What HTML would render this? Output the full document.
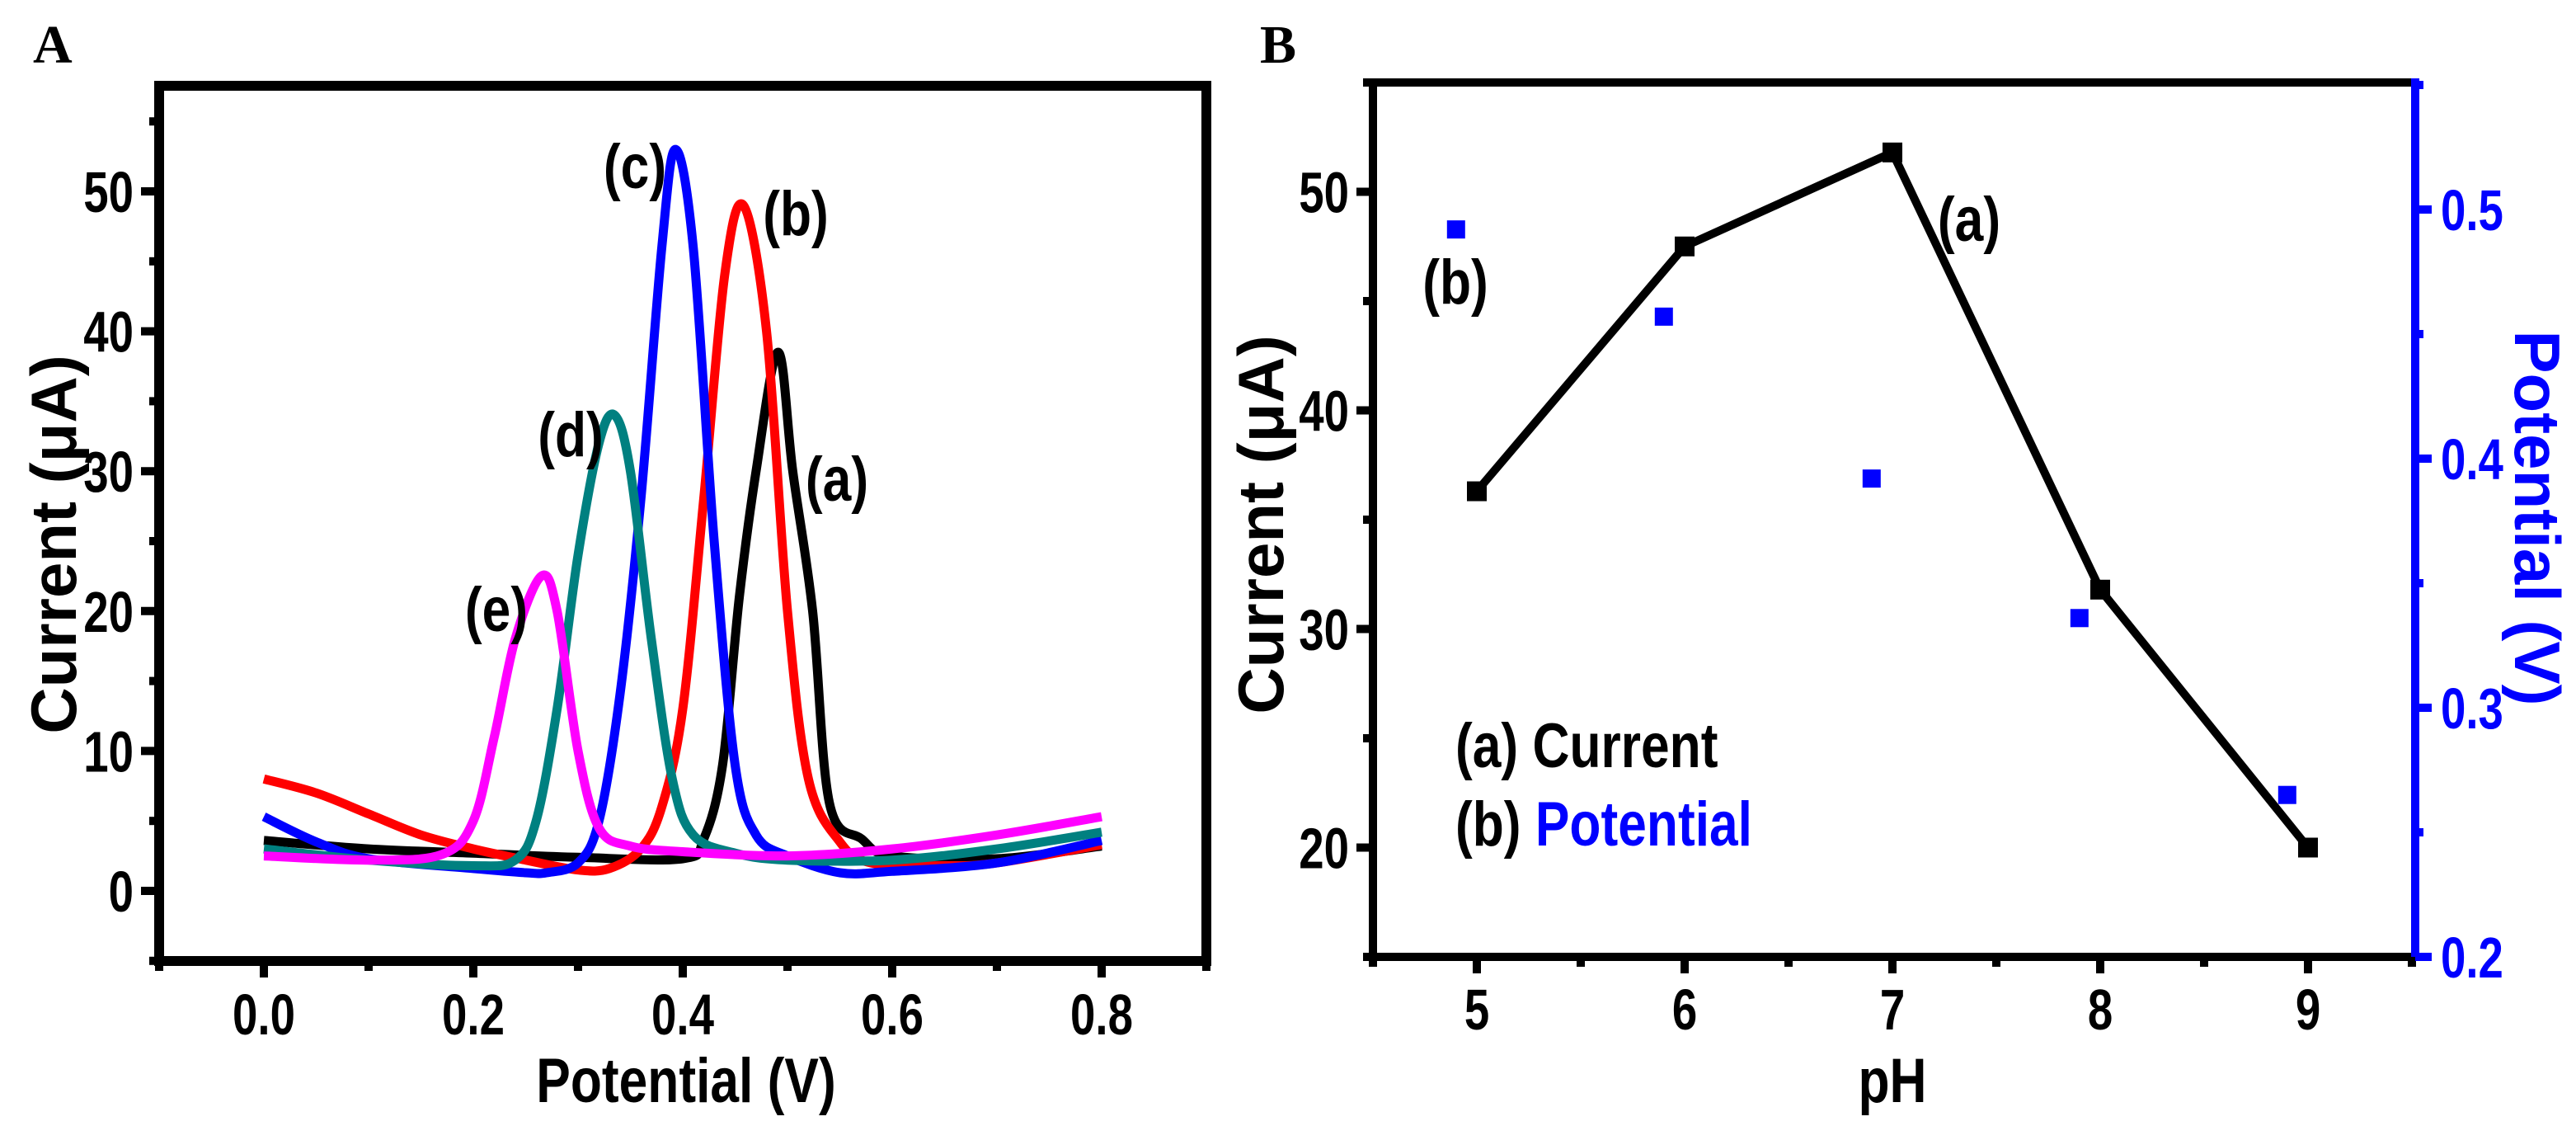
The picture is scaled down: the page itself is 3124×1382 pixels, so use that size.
<!DOCTYPE html>
<html><head><meta charset="utf-8"><style>
html,body{margin:0;padding:0;background:#fff;}
svg{display:block;}
.tk{font-family:"Liberation Sans",sans-serif;font-weight:bold;font-size:70px;}
.tt{font-family:"Liberation Sans",sans-serif;font-weight:bold;font-size:78px;}
.nt{font-family:"Liberation Sans",sans-serif;font-weight:bold;font-size:76px;}
</style></head><body>
<svg id="fig" width="3124" height="1382" viewBox="0 0 3124 1382" xmlns="http://www.w3.org/2000/svg">
<g id="pa"></g>
<g id="pb"></g>
</svg>
<script>
// Panel A data
const aTicksX = [0.0, 0.2, 0.4, 0.6, 0.8];
const aTicksY = [0, 10, 20, 30, 40, 50];
const curveAx = [0, 0.1, 0.2, 0.3, 0.4, 0.42, 0.438, 0.454, 0.47, 0.491, 0.505, 0.524, 0.54, 0.571, 0.6, 0.7, 0.8];
const curveAy = [3.6, 3.0, 2.7, 2.4, 2.3, 3.7, 9, 21, 30, 38.5, 30, 20, 6.3, 3.7, 2.5, 2.3, 3.2];
const curveBx = [0, 0.05, 0.1, 0.15, 0.2, 0.25, 0.3, 0.33, 0.36, 0.38, 0.4, 0.42, 0.44, 0.458, 0.48, 0.5, 0.52, 0.55, 0.58, 0.65, 0.7, 0.8];
const curveBy = [8, 7, 5.5, 4, 3, 2.2, 1.5, 1.6, 3, 6, 13, 28, 44, 49, 40, 20, 8, 3.5, 2, 1.8, 2, 3.3];
const curveCx = [0, 0.05, 0.1, 0.2, 0.25, 0.27, 0.3, 0.32, 0.34, 0.36, 0.38, 0.393, 0.41, 0.43, 0.45, 0.47, 0.5, 0.55, 0.6, 0.7, 0.8];
const curveCy = [5.3, 3.5, 2.3, 1.6, 1.3, 1.3, 2, 5, 14, 28, 46, 53, 46, 25, 9, 4, 2.5, 1.3, 1.4, 2, 3.6];
const curveDx = [0, 0.1, 0.2, 0.24, 0.26, 0.28, 0.3, 0.32, 0.335, 0.35, 0.37, 0.39, 0.41, 0.45, 0.5, 0.6, 0.7, 0.8];
const curveDy = [3, 2.2, 1.8, 2.2, 5, 13, 24, 32, 34, 30, 18, 8, 4, 2.7, 2.2, 2.2, 3, 4.2];
const curveEx = [0, 0.1, 0.17, 0.2, 0.22, 0.24, 0.265, 0.28, 0.3, 0.32, 0.35, 0.4, 0.5, 0.6, 0.7, 0.8];
const curveEy = [2.5, 2.2, 2.6, 5, 11, 18, 22.5, 20, 10, 4.5, 3.2, 2.8, 2.5, 3, 4, 5.3];
// Panel B data
const phValues = [5, 6, 7, 8, 9];
const currentValues = [36.3, 47.5, 51.8, 31.8, 20.0];
const potentialPh = [4.9, 5.9, 6.9, 7.9, 8.9];
const potentialValues = [0.492, 0.457, 0.392, 0.336, 0.265];
const bTicksX = [5, 6, 7, 8, 9];
const bTicksYL = [20, 30, 40, 50];
const bTicksYR = [0.2, 0.3, 0.4, 0.5];

const NS = "http://www.w3.org/2000/svg";
function mk(parent, tag, attrs, text) {
  const e = document.createElementNS(NS, tag);
  for (const k in attrs) e.setAttribute(k, attrs[k]);
  if (text !== undefined) e.textContent = text;
  parent.appendChild(e);
  return e;
}
// narrow text: placed via transform with horizontal squeeze
function ntext(parent, x, y, sx, attrs, text) {
  attrs.x = 0; attrs.y = 0;
  attrs.transform = "translate(" + x + "," + y + ") scale(" + sx + ",1)";
  return mk(parent, "text", attrs, text);
}
function smooth(pts) {
  let d = "M" + pts[0][0].toFixed(1) + "," + pts[0][1].toFixed(1);
  for (let i = 0; i < pts.length - 1; i++) {
    const p0 = pts[Math.max(0, i - 1)], p1 = pts[i], p2 = pts[i + 1], p3 = pts[Math.min(pts.length - 1, i + 2)];
    const c1x = p1[0] + (p2[0] - p0[0]) / 6, c1y = p1[1] + (p2[1] - p0[1]) / 6;
    const c2x = p2[0] - (p3[0] - p1[0]) / 6, c2y = p2[1] - (p3[1] - p1[1]) / 6;
    d += " C" + c1x.toFixed(1) + "," + c1y.toFixed(1) + " " + c2x.toFixed(1) + "," + c2y.toFixed(1) + " " + p2[0].toFixed(1) + "," + p2[1].toFixed(1);
  }
  return d;
}
const SQ = 0.78;

// ---------- Panel A ----------
const A = document.getElementById("pa");
const axA = v => 320 + v * 1270;
const ayA = v => 1080 - v * 16.96;
const aL = 193, aR = 1463, aT = 104, aB = 1165;
let t;
t = mk(A, "text", {x: 40, y: 76, "font-family": "Liberation Serif, serif", "font-weight": "bold", "font-size": 66}, "A");



const seriesA = [[curveAx, curveAy, "#000000", "curve-a"], [curveBx, curveBy, "#ff0000", "curve-b"], [curveCx, curveCy, "#0000ff", "curve-c"], [curveDx, curveDy, "#008080", "curve-d"], [curveEx, curveEy, "#ff00ff", "curve-e"]];
seriesA.forEach(s => {
  const pts = s[0].map((x, i) => [axA(x), ayA(s[1][i])]);
  const p = mk(A, "path", {d: smooth(pts), fill: "none", stroke: s[2], "stroke-width": 11, "stroke-linejoin": "round"});
  
  
});
const frA = mk(A, "rect", {x: aL, y: aT, width: aR - aL, height: aB - aT, fill: "none", stroke: "#000", "stroke-width": 12});


for (let i = -1; i <= 9; i++) {
  const x = axA(i / 10);
  const major = Math.abs(i % 2) === 0;
  const tk = mk(A, "line", {x1: x, y1: aB, x2: x, y2: aB + (major ? 20 : 12), stroke: "#000", "stroke-width": 10});
  
  
}
aTicksX.forEach(v => {
  const l = ntext(A, axA(v), 1254, SQ, {"text-anchor": "middle", class: "tk"}, v.toFixed(1));
  
  
});
for (let v = -5; v <= 55; v += 5) {
  const y = ayA(v);
  const tk = mk(A, "line", {x1: aL, y1: y, x2: aL - (v % 10 === 0 ? 22 : 12), y2: y, stroke: "#000", "stroke-width": 10});
  
  
}
aTicksY.forEach(v => {
  const l = ntext(A, 162, ayA(v) + 25, SQ, {"text-anchor": "end", class: "tk"}, String(v));
  
  
});
t = ntext(A, 832, 1336, 0.82, {"text-anchor": "middle", class: "nt", "font-size": 78}, "Potential (V)");


t = mk(A, "text", {x: 0, y: 0, "text-anchor": "middle", class: "tt", transform: "translate(92,660) rotate(-90)"}, "Current (\u03bcA)");


[["(c)", 770, 228, "label-c"], ["(b)", 965, 285, "label-b"], ["(a)", 1015, 607, "label-a"], ["(d)", 692, 553, "label-d"], ["(e)", 602, 765, "label-e"]].forEach(a => {
  const l = ntext(A, a[1], a[2], 0.82, {"text-anchor": "middle", class: "nt", "font-size": 72}, a[0]);
  
  
});

// ---------- Panel B ----------
const B = document.getElementById("pb");
const axB = v => 1791 + (v - 5) * 252;
const ayL = v => 1160 - (v - 15) * 26.5;
const ayR = v => 1160 - (v - 0.2) * 3020;
const bL = axB(4.5), bR = 2929, bT = 100, bBt = 1160;
t = mk(B, "text", {x: 1528, y: 76, "font-family": "Liberation Serif, serif", "font-weight": "bold", "font-size": 66}, "B");



const ln = mk(B, "polyline", {points: phValues.map((p, i) => axB(p) + "," + ayL(currentValues[i])).join(" "), fill: "none", stroke: "#000", "stroke-width": 10, "stroke-linejoin": "round"});


phValues.forEach((p, i) => {
  const r = mk(B, "rect", {x: axB(p) - 12, y: ayL(currentValues[i]) - 12, width: 24, height: 24, fill: "#000"});
  
  
});
potentialPh.forEach((p, i) => {
  const r = mk(B, "rect", {x: axB(p) - 11, y: ayR(potentialValues[i]) - 11, width: 22, height: 22, fill: "#0000ff"});
  
  
});
const fb = mk(B, "path", {d: `M${bR},${bT} L${bL},${bT} L${bL},${bBt} L${bR},${bBt}`, fill: "none", stroke: "#000", "stroke-width": 10});


const ra = mk(B, "line", {x1: bR, y1: bT - 5, x2: bR, y2: bBt + 5, stroke: "#0000ff", "stroke-width": 10});


for (let i = 9; i <= 19; i++) {
  const v = i / 2;
  const x = axB(v);
  const major = i % 2 === 0;
  const tk = mk(B, "line", {x1: x, y1: bBt, x2: x, y2: bBt + (major ? 20 : 12), stroke: "#000", "stroke-width": 10});
  
  
}
bTicksX.forEach(v => {
  const l = ntext(B, axB(v), 1248, SQ, {"text-anchor": "middle", class: "tk"}, String(v));
  
  
});
for (let v = 15; v <= 55; v += 5) {
  const y = ayL(v);
  const tk = mk(B, "line", {x1: bL, y1: y, x2: bL - (v % 10 === 0 ? 20 : 12), y2: y, stroke: "#000", "stroke-width": 10});
  
  
}
bTicksYL.forEach(v => {
  const l = ntext(B, 1636, ayL(v) + 25, SQ, {"text-anchor": "end", class: "tk"}, String(v));
  
  
});
for (let i = 4; i <= 11; i++) {
  const v = i / 20;
  const y = ayR(v);
  const major = i % 2 === 0;
  const tk = mk(B, "line", {x1: bR, y1: y, x2: bR + (major ? 20 : 10), y2: y, stroke: "#0000ff", "stroke-width": 10});
  
  
}
bTicksYR.forEach(v => {
  const l = ntext(B, 2960, ayR(v) + 25, SQ, {fill: "#0000ff", class: "tk"}, v.toFixed(1));
  
  
});
t = ntext(B, 2295, 1336, 0.82, {"text-anchor": "middle", class: "nt", "font-weight": "normal", "font-size": 78}, "pH");


t = mk(B, "text", {x: 0, y: 0, "text-anchor": "middle", class: "tt", transform: "translate(1556,636) rotate(-90)"}, "Current (\u03bcA)");


t = mk(B, "text", {x: 0, y: 0, "text-anchor": "middle", class: "tt", fill: "#0000ff", transform: "translate(3050,628) rotate(90)"}, "Potential (V)");


t = ntext(B, 2388, 292, 0.82, {"text-anchor": "middle", class: "nt", "font-weight": "normal", "font-size": 72}, "(a)");


t = ntext(B, 1765, 368, 0.82, {"text-anchor": "middle", class: "nt", "font-weight": "normal", "font-size": 72}, "(b)");


const lg = mk(B, "g", {});


t = ntext(lg, 1765, 930, 0.82, {class: "nt", "font-weight": "normal", "font-size": 76}, "(a) Current");


t = ntext(lg, 1765, 1025, 0.82, {class: "nt", "font-weight": "normal", "font-size": 76});


mk(t, "tspan", {}, "(b) ");
mk(t, "tspan", {fill: "#0000ff"}, "Potential");
</script>
</body></html>
